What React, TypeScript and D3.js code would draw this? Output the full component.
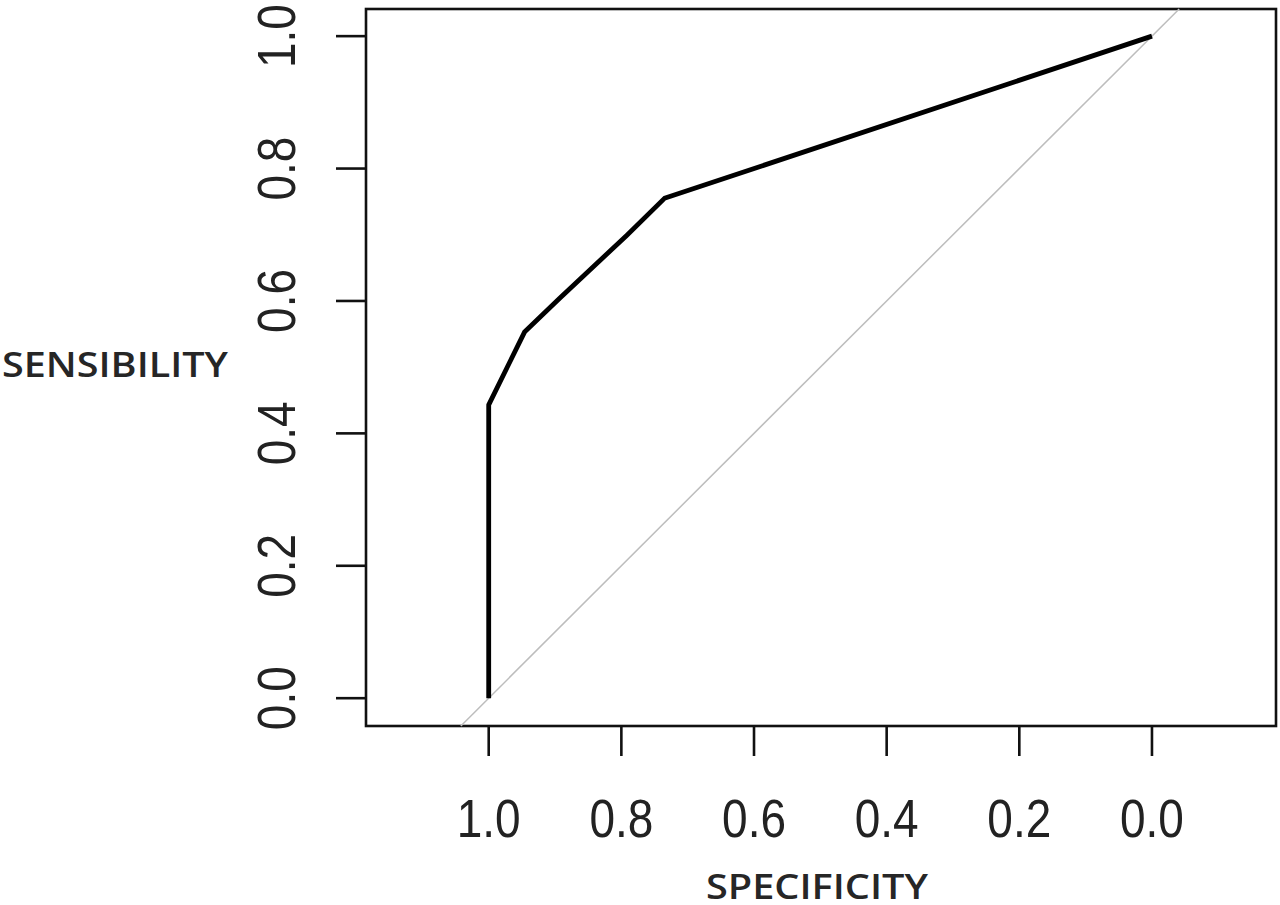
import React from "react";
import * as d3 from "d3";

const specificity = [1.0, 1.0, 0.946, 0.893, 0.792, 0.735, 0.0];
const sensitivity = [0.0, 0.443, 0.553, 0.604, 0.699, 0.755, 1.0];
const xTicks = [1.0, 0.8, 0.6, 0.4, 0.2, 0.0];
const yTicks = [0.0, 0.2, 0.4, 0.6, 0.8, 1.0];
const xLabel = "SPECIFICITY";
const yLabel = "SENSIBILITY";

const W = 1280;
const H = 905;
const plot = { left: 366, right: 1276, top: 9, bottom: 726 };

export default function App() {
  const x = d3.scaleLinear().domain([1.185, -0.187]).range([plot.left, plot.right]);
  const y = d3.scaleLinear().domain([-0.042, 1.041]).range([plot.bottom, plot.top]);

  const pts: [number, number][] = specificity.map((s, i) => [s, sensitivity[i]]);
  const line = d3
    .line<[number, number]>()
    .x((d) => x(d[0]))
    .y((d) => y(d[1]));

  // diagonal: sens = 1 - spec, clipped to plot box
  const dStart: [number, number] = [1.042, -0.042];
  const dEnd: [number, number] = [-0.041, 1.041];

  const tickFont = "'Liberation Sans', Arial, sans-serif";
  const labelFont = "'Open Sans', 'Noto Sans', sans-serif";

  return (
    <svg
      width={W}
      height={H}
      style={{ position: "absolute", left: 0, top: 0, background: "#fff" }}
    >
      <rect x={0} y={0} width={W} height={H} fill="#fff" />
      {/* box */}
      <rect
        x={plot.left}
        y={plot.top}
        width={plot.right - plot.left}
        height={plot.bottom - plot.top}
        fill="none"
        stroke="#111"
        strokeWidth={2.6}
      />
      {/* diagonal */}
      <line
        x1={x(dStart[0])}
        y1={y(dStart[1])}
        x2={x(dEnd[0])}
        y2={y(dEnd[1])}
        stroke="#bdbdbd"
        strokeWidth={1.5}
      />
      {/* ROC curve */}
      <path
        d={line(pts) || ""}
        fill="none"
        stroke="#000"
        strokeWidth={4.8}
        strokeLinejoin="round"
      />
      {/* x ticks */}
      {xTicks.map((t) => (
        <g key={"xt" + t}>
          <line
            x1={x(t)}
            x2={x(t)}
            y1={plot.bottom}
            y2={plot.bottom + 30}
            stroke="#111"
            strokeWidth={2.6}
          />
          <text
            transform={`translate(${x(t)}, 837) scale(1,1.18)`}
            textAnchor="middle"
            fontFamily={tickFont}
            fontSize={46}
            fill="#222"
          >
            {t.toFixed(1)}
          </text>
        </g>
      ))}
      {/* y ticks */}
      {yTicks.map((t) => (
        <g key={"yt" + t}>
          <line
            x1={plot.left - 30}
            x2={plot.left}
            y1={y(t)}
            y2={y(t)}
            stroke="#111"
            strokeWidth={2.6}
          />
          <text
            transform={`translate(295, ${y(t)}) rotate(-90) scale(1,1.18)`}
            textAnchor="middle"
            fontFamily={tickFont}
            fontSize={46}
            fill="#222"
          >
            {t.toFixed(1)}
          </text>
        </g>
      ))}
      {/* axis labels */}
      <text
        x={706}
        y={899}
        textAnchor="start"
        fontFamily={labelFont}
        fontSize={35}
        fontWeight={600}
        textLength={222}
        lengthAdjust="spacingAndGlyphs"
        fill="#262626"
      >
        {xLabel}
      </text>
      <text
        x={2}
        y={377}
        textAnchor="start"
        fontFamily={labelFont}
        fontSize={35}
        fontWeight={600}
        textLength={226}
        lengthAdjust="spacingAndGlyphs"
        fill="#262626"
      >
        {yLabel}
      </text>
    </svg>
  );
}
